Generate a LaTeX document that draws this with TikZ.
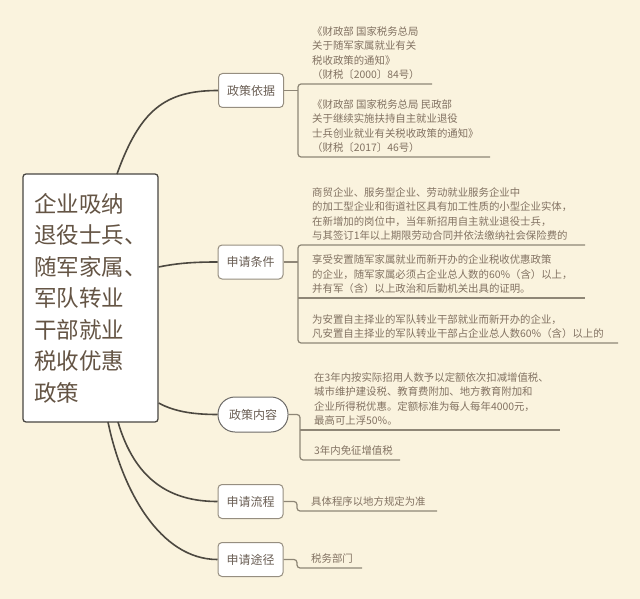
\documentclass[tikz,border=0pt]{standalone}
\usepackage{fontspec}
\setmainfont{Noto Sans CJK SC}
\usepackage{xcolor}
\definecolor{paper}{RGB}{250,243,222}
\definecolor{rootedge}{RGB}{72,70,66}
\definecolor{boxedge}{RGB}{150,142,128}
\definecolor{roottext}{RGB}{100,84,68}
\definecolor{topictext}{RGB}{106,94,84}
\definecolor{leaftext}{RGB}{130,114,98}
\definecolor{branchline}{RGB}{76,72,64}
\definecolor{twigline}{RGB}{142,134,118}

\begin{document}
\begin{tikzpicture}[x=1pt, y=-1pt,
    root/.style={rectangle, draw=rootedge, fill=white, rounded corners=3pt, line width=1.3pt,
      minimum width=135pt, minimum height=248pt, align=left, text=roottext,
      font=\fontsize{22.5}{31.5}\selectfont},
    topic/.style={rectangle, draw=boxedge, fill=white, rounded corners=4pt, line width=1pt,
      minimum width=65pt, minimum height=34pt, inner sep=0pt, text=topictext,
      font=\fontsize{12}{14}\selectfont},
    leaf/.style={anchor=south west, align=left, inner xsep=14pt, inner ysep=4pt,
      text=leaftext, font=\fontsize{10.4}{14.5}\selectfont},
    branch/.style={draw=branchline, line width=1.6pt},
    twig/.style={draw=twigline, line width=1.2pt, rounded corners=3pt}]

    \fill[paper] (0,0) rectangle (640,599);
    \useasboundingbox (0,0) rectangle (640,599);

    \node[root] (r) at (90.5,298) {企业吸纳\\退役士兵、\\随军家属、\\军队转业\\干部就业\\税收优惠\\政策};

    \node[topic] (n1) at (251,90.5) {政策依据};
    \node[topic] (n2) at (250.5,262) {申请条件};
    \node[topic, draw=rootedge!80, rounded corners=17pt, minimum width=70pt, minimum height=35pt] (n3) at (253,414.5) {政策内容};
    \node[topic] (n4) at (250.5,501.5) {申请流程};
    \node[topic] (n5) at (250.5,559.5) {申请途径};

    \draw[branch] (117,174) .. controls (140,110) and (165,90.5) .. (n1.west);
    \draw[branch] (r.east |- 0,267) .. controls (178,263) and (195,262) .. (n2.west);
    \draw[branch] (r.east |- 0,403) .. controls (175,412) and (195,414.5) .. (n3.west);
    \draw[branch] (118,422) .. controls (135,480) and (170,501.5) .. (n4.west);
    \draw[branch] (108,422) .. controls (122,490) and (160,559.5) .. (n5.west);

    \node[leaf] (a1) at (298,84) {《财政部 国家税务总局\\关于随军家属就业有关\\税收政策的通知》\\（财税〔2000〕84号）};
    \node[leaf] (a2) at (298,157) {《财政部 国家税务总局 民政部\\关于继续实施扶持自主就业退役\\士兵创业就业有关税收政策的通知》\\（财税〔2017〕46号）};
    \coordinate (a1r) at (432,84);
    \coordinate (a2r) at (490,157);
    \draw[twig] (n1.east) -- (n1.east -| a1.south west);
    \draw[twig] (a1r) -- (a1.south west) -- (a2.south west) -- (a2r);

    \node[leaf] (c1) at (298,245) {商贸企业、服务型企业、劳动就业服务企业中\\的加工型企业和街道社区具有加工性质的小型企业实体，\\在新增加的岗位中，当年新招用自主就业退役士兵，\\与其签订1年以上期限劳动合同并依法缴纳社会保险费的};
    \node[leaf] (c2) at (298,298) {享受安置随军家属就业而新开办的企业税收优惠政策\\的企业，随军家属必须占企业总人数的60\%（含）以上，\\并有军（含）以上政治和后勤机关出具的证明。};
    \node[leaf] (c3) at (298,343) {为安置自主择业的军队转业干部就业而新开办的企业，\\凡安置自主择业的军队转业干部占企业总人数60\%（含）以上的};
    \coordinate (c1r) at (585,245);
    \coordinate (c2r) at (585,298);
    \coordinate (c3r) at (618,343);
    \draw[twig] (n2.east) -- (n2.east -| c1.south west);
    \draw[twig] (c1r) -- (c1.south west) -- (c3.south west) -- (c3r);
    \draw[twig] (c2.south west) -- (c2r);

    \node[leaf] (d1) at (300,430) {在3年内按实际招用人数予以定额依次扣减增值税、\\城市维护建设税、教育费附加、地方教育附加和\\企业所得税优惠。定额标准为每人每年4000元，\\最高可上浮50\%。};
    \node[leaf] (d2) at (300,460) {3年内免征增值税};
    \coordinate (d1r) at (560,430);
    \coordinate (d2r) at (400,460);
    \draw[twig] (n3.east) -- (n3.east -| d2.south west) -- (d2.south west) -- (d2r);
    \draw[twig] (d1.south west) -- (d1r);

    \node[leaf] (e1) at (297,511) {具体程序以地方规定为准};
    \coordinate (e1r) at (437,511);
    \draw[twig] (n4.east) -- (n4.east -| e1.south west) -- (e1.south west) -- (e1r);

    \node[leaf] (f1) at (297,568) {税务部门};
    \coordinate (f1r) at (362,568);
    \draw[twig] (n5.east) -- (n5.east -| f1.south west) -- (f1.south west) -- (f1r);
\end{tikzpicture}
\end{document}
